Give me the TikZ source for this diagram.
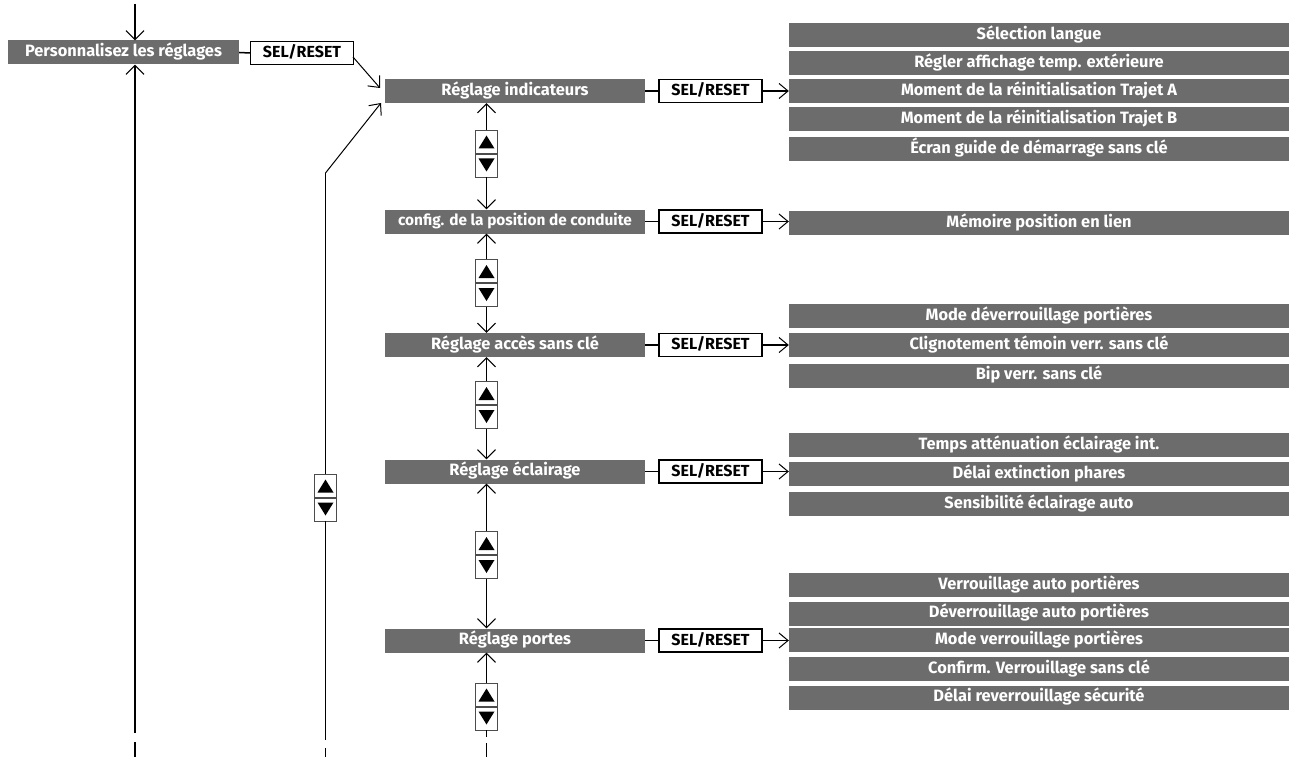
\documentclass[tikz,border=0pt]{standalone}
\usepackage{fontspec}
\setmainfont{Fira Sans}
\usetikzlibrary{arrows.meta,calc}
\definecolor{boxgray}{RGB}{108,108,108}
\begin{document}
\begin{tikzpicture}[x=1pt,y=-1pt,
  gbox/.style={fill=boxgray,text=white,font=\bfseries\fontsize{16.4}{19}\selectfont,minimum height=24pt,inner sep=0pt,anchor=center,text height=12pt,text depth=3.5pt},
  mbox/.style={gbox,minimum width=260pt},
  rbox/.style={gbox,minimum width=500pt},
  selbox/.style={draw=black,line width=1.2pt,fill=white,text=black,font=\bfseries\fontsize{16}{18}\selectfont,minimum width=103pt,minimum height=23pt,inner sep=0pt,text height=11.5pt,text depth=2pt},
  udbox/.style={draw=black!70,line width=0.9pt,fill=white,minimum width=22pt,minimum height=23pt,inner sep=0pt},
  upbox/.style={udbox,path picture={\fill[black] ([xshift=-8pt,yshift=-7pt]path picture bounding box.center) -- ([xshift=8pt,yshift=-7pt]path picture bounding box.center) -- ([yshift=6pt]path picture bounding box.center) -- cycle;}},
  dnbox/.style={udbox,path picture={\fill[black] ([xshift=-8pt,yshift=7pt]path picture bounding box.center) -- ([xshift=8pt,yshift=7pt]path picture bounding box.center) -- ([yshift=-6pt]path picture bounding box.center) -- cycle;}},
  ln/.style={line width=1.5pt},
  arr/.style={line width=1.5pt,-{Straight Barb[length=9pt,width=18pt,line width=1pt]}},
  thinarr/.style={line width=1pt,-{Straight Barb[length=9pt,width=16pt,line width=1pt]}},
  harr/.style={line width=1.5pt,-{Straight Barb[length=9pt,width=15pt,line width=1pt]}}
]
\useasboundingbox (0,0) rectangle (1292,762);

% top-level
\node[gbox,minimum width=231pt] (p) at (123.5,52.5) {Personnalisez les réglages};
\node[selbox] (s0) at (302,53) {SEL/RESET};
\draw[ln] (p.east) -- (s0.west);

% main column
\node[mbox] (ind) at (515,91) {Réglage indicateurs};
\node[mbox,font=\bfseries\fontsize{15.4}{18}\selectfont] (cfg) at (515,221.5) {config. de la position de conduite};
\node[mbox] (acc) at (515,345) {Réglage accès sans clé};
\node[mbox] (ecl) at (515,471.5) {Réglage éclairage};
\node[mbox] (por) at (515,640.5) {Réglage portes};

% SEL/RESET boxes
\foreach \n/\y in {ind/91,cfg/221.5,acc/345,ecl/471.5,por/640.5}{
  \node[selbox] (s\n) at (710.5,\y) {SEL/RESET};
  \draw[ln] (\n.east) -- (s\n.west);
}

% right column
\node[rbox] (r1) at (1039,35) {Sélection langue};
\node[rbox] (r2) at (1039,63) {Régler affichage temp. extérieure};
\node[rbox] (r3) at (1039,91) {Moment de la réinitialisation Trajet A};
\node[rbox] (r4) at (1039,119) {Moment de la réinitialisation Trajet B};
\node[rbox] (r5) at (1039,149) {Écran guide de démarrage sans clé};
\node[rbox] (r6) at (1039,223) {Mémoire position en lien};
\node[rbox] (r7) at (1039,316) {Mode déverrouillage portières};
\node[rbox] (r8) at (1039,345) {Clignotement témoin verr. sans clé};
\node[rbox] (r9) at (1039,375.5) {Bip verr. sans clé};
\node[rbox] (r10) at (1039,445) {Temps atténuation éclairage int.};
\node[rbox] (r11) at (1039,474) {Délai extinction phares};
\node[rbox] (r12) at (1039,504) {Sensibilité éclairage auto};
\node[rbox] (r13) at (1039,585) {Verrouillage auto portières};
\node[rbox] (r14) at (1039,613.5) {Déverrouillage auto portières};
\node[rbox] (r15) at (1039,640) {Mode verrouillage portières};
\node[rbox] (r16) at (1039,669) {Confirm. Verrouillage sans clé};
\node[rbox] (r17) at (1039,697.5) {Délai reverrouillage sécurité};

\draw[harr] (sind.east) -- (r3.west);
\draw[harr] (scfg.east) -- (r6.west |- scfg.east);
\draw[harr] (sacc.east) -- (r8.west);
\draw[harr] (secl.east) -- (r11.west |- secl.east);
\draw[harr] (spor.east) -- (r15.west |- spor.east);

% up/down boxes on main column
\node[upbox] (u1) at (486.5,141.5) {};
\node[dnbox] (d1) at (486.5,165.5) {};
\node[upbox] (u2) at (486.5,271) {};
\node[dnbox] (d2) at (486.5,295) {};
\node[upbox] (u3) at (486.5,393) {};
\node[dnbox] (d3) at (486.5,417) {};
\node[upbox] (u4) at (486.5,543) {};
\node[dnbox] (d4) at (486.5,567) {};
\node[upbox] (u5) at (486.5,694.5) {};
\node[dnbox] (d5) at (486.5,718.5) {};

\draw[arr] (u1.north) -- (u1.north |- ind.south);
\draw[arr] (d1.south) -- (d1.south |- cfg.north);
\draw[arr] (u2.north) -- (u2.north |- cfg.south);
\draw[arr] (d2.south) -- (d2.south |- acc.north);
\draw[arr] (u3.north) -- (u3.north |- acc.south);
\draw[arr] (d3.south) -- (d3.south |- ecl.north);
\draw[arr] (u4.north) -- (u4.north |- ecl.south);
\draw[arr] (d4.south) -- (d4.south |- por.north);
\draw[arr] (u5.north) -- (u5.north |- por.south);
\coordinate (c5a) at (486.5,737);
\coordinate (c5b) at (486.5,743);
\coordinate (c5c) at (486.5,757);
\draw[ln] (d5.south) -- (c5a);
\draw[ln] (c5b) -- (c5c);

% middle line
\node[upbox] (mu) at (325.5,485.5) {};
\node[dnbox] (md) at (325.5,509.5) {};
\coordinate (mtop) at (325.5,173);
\coordinate (mtip) at (381,103);
\coordinate (mb1) at (325.5,740);
\coordinate (mb2) at (325.5,748);
\coordinate (mb3) at (325.5,757);
\draw[thinarr] (mtop) -- (mtip);
\draw[ln] (mtop) -- (mu.north);
\draw[ln] (md.south) -- (mb1);
\draw[ln] (mb2) -- (mb3);

% top diagonal
\coordinate (dstart) at (353,57);
\coordinate (dend) at (380,88);
\draw[thinarr] (dstart) -- (dend);

% left line
\coordinate (ltop) at (135,4);
\coordinate (lb1) at (135,733);
\coordinate (lb2) at (135,742);
\coordinate (lb3) at (135,757);
\draw[arr] (ltop) -- (ltop |- p.north);
\draw[arr] (lb1) -- (lb1 |- p.south);
\draw[ln] (lb2) -- (lb3);
\end{tikzpicture}
\end{document}
